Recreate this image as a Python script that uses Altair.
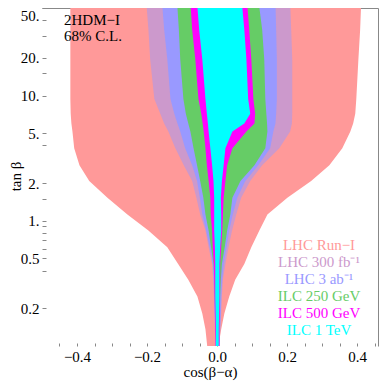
import altair as alt
import pandas as pd

# tan(beta) rows (top to bottom) at which the region boundaries were read
tan_beta = [55.8, 33.6, 19.5, 9.4, 7.16, 5.97, 5.16, 3.79, 2.78, 2.08,
            1.53, 1.12, 0.838, 0.615, 0.452, 0.338, 0.248, 0.182, 0.136, 0.1]

# cos(beta-alpha) left / right boundaries of each 68% C.L. region
run1_lo = [-0.419, -0.419, -0.419, -0.419, -0.418, -0.416, -0.413, -0.408, -0.393, -0.365,
           -0.313, -0.256, -0.196, -0.142, -0.111, -0.082, -0.056, -0.042, -0.033, -0.028]
run1_hi = [0.412, 0.409, 0.404, 0.398, 0.395, 0.389, 0.381, 0.358, 0.321, 0.269,
           0.201, 0.144, 0.121, 0.098, 0.078, 0.052, 0.035, 0.021, 0.012, 0.004]
lhc300_lo = [-0.202, -0.196, -0.191, -0.179, -0.162, -0.151, -0.139, -0.119, -0.095, -0.071,
             -0.059, -0.048, -0.033, -0.024, -0.014, -0.011, -0.009, -0.008, -0.006, -0.005]
lhc300_hi = [0.209, 0.212, 0.215, 0.215, 0.215, 0.214, 0.209, 0.178, 0.129, 0.095,
             0.069, 0.055, 0.043, 0.033, 0.024, 0.017, 0.014, 0.012, 0.009, 0.008]
lhc3000_lo = [-0.157, -0.151, -0.142, -0.133, -0.122, -0.113, -0.105, -0.091, -0.071, -0.057,
              -0.049, -0.042, -0.031, -0.021, -0.012, -0.009, -0.008, -0.006, -0.005, -0.004]
lhc3000_hi = [0.167, 0.169, 0.171, 0.171, 0.169, 0.167, 0.161, 0.152, 0.118, 0.081,
              0.058, 0.045, 0.035, 0.027, 0.019, 0.015, 0.012, 0.011, 0.009, 0.007]
ilc250_lo = [-0.114, -0.109, -0.105, -0.096, -0.089, -0.082, -0.076, -0.067, -0.057, -0.048,
             -0.039, -0.033, -0.024, -0.017, -0.010, -0.008, -0.007, -0.005, -0.004, -0.003]
ilc250_hi = [0.119, 0.129, 0.135, 0.138, 0.141, 0.143, 0.144, 0.138, 0.107, 0.067,
             0.044, 0.038, 0.029, 0.022, 0.014, 0.011, 0.009, 0.008, 0.007, 0.006]
ilc500_lo = [-0.076, -0.071, -0.062, -0.053, -0.045, -0.041, -0.038, -0.033, -0.029, -0.024,
             -0.019, -0.018, -0.014, -0.012, -0.009, -0.008, -0.007, -0.006, -0.005, -0.004]
ilc500_hi = [0.086, 0.092, 0.098, 0.104, 0.109, 0.107, 0.084, 0.044, 0.029, 0.024,
             0.019, 0.017, 0.015, 0.012, 0.009, 0.009, 0.008, 0.008, 0.007, 0.007]
ilc1000_lo = [-0.057, -0.051, -0.042, -0.033, -0.029, -0.026, -0.024, -0.019, -0.014, -0.010,
              -0.008, -0.008, -0.008, -0.006, -0.005, -0.005, -0.005, -0.004, -0.003, -0.003]
ilc1000_hi = [0.071, 0.078, 0.084, 0.089, 0.095, 0.078, 0.044, 0.024, 0.019, 0.014,
              0.011, 0.012, 0.012, 0.009, 0.007, 0.007, 0.007, 0.006, 0.005, 0.005]

names = ["LHC Run\u2212I", "LHC 300 fb\u207b\u00b9", "LHC 3 ab\u207b\u00b9",
         "ILC 250 GeV", "ILC 500 GeV", "ILC 1 TeV"]
colors = ["#ff9999", "#cc99cc", "#9999ff", "#66cc66", "#ff00ff", "#00ffff"]
bounds = [(run1_lo, run1_hi), (lhc300_lo, lhc300_hi), (lhc3000_lo, lhc3000_hi),
          (ilc250_lo, ilc250_hi), (ilc500_lo, ilc500_hi), (ilc1000_lo, ilc1000_hi)]

x_ticks = [-0.45, -0.4, -0.35, -0.3, -0.25, -0.2, -0.15, -0.1, -0.05, 0.0,
           0.05, 0.1, 0.15, 0.2, 0.25, 0.3, 0.35, 0.4, 0.45]
x_major = [-0.4, -0.2, 0.0, 0.2, 0.4]
y_ticks = [0.2, 0.4, 0.5, 0.6, 0.7, 0.8, 0.9, 1, 1.5, 2, 4, 5, 10, 15, 20, 30, 40, 50]
y_major_dec = [0.2, 0.5]
y_major_int = [1, 2, 5, 10, 20, 50]

FONT = "Liberation Serif"
GRAY = "#888888"

xscale = alt.Scale(domain=[-0.5, 0.46], nice=False, zero=False)
yscale = alt.Scale(type="log", domain=[0.1, 50], nice=False)

x_axis = alt.Axis(
    values=x_ticks,
    labelExpr="indexof(%s, datum.value) >= 0 ? format(datum.value, '.1f') : ''" % str(x_major),
    title="cos(\u03b2\u2212\u03b1)", domain=False, grid=False,
    tickSize=3, offset=-3, tickColor=GRAY, labelPadding=3,
    labelFont=FONT, labelFontSize=15, labelColor="black",
    titleFont=FONT, titleFontSize=15, titleFontWeight="normal", titleColor="black",
    titlePadding=0,
)
y_axis = alt.Axis(
    values=y_ticks,
    labelExpr=("indexof(%s, datum.value) >= 0 ? format(datum.value, '.1f') : "
               "(indexof(%s, datum.value) >= 0 ? format(datum.value, 'd') + '.' : '')")
    % (str(y_major_dec), str(y_major_int)),
    title="tan \u03b2", domain=False, grid=False,
    tickSize=4, offset=-4, tickColor=GRAY, labelPadding=3, labelFlush=True,
    labelFont=FONT, labelFontSize=15, labelColor="black",
    titleFont=FONT, titleFontSize=15, titleFontWeight="normal", titleColor="black",
    titleX=-23, titleY=168,
)
top_axis = alt.Axis(orient="top", domain=True, domainColor=GRAY, ticks=False,
                    labels=False, grid=False, title="")
right_axis = alt.Axis(orient="right", domain=True, domainColor=GRAY, ticks=False,
                      labels=False, grid=False, title="")

layers = []
for i, (lo, hi) in enumerate(bounds):
    df = pd.DataFrame({"tan": tan_beta, "lo": lo, "hi": hi})
    if i == 0:
        ax, ay = x_axis, y_axis
    elif i == len(bounds) - 1:
        ax, ay = top_axis, right_axis
    else:
        ax, ay = None, None
    layers.append(
        alt.Chart(df).mark_area(orient="horizontal", color=colors[i], clip=True).encode(
            y=alt.Y("tan:Q", scale=yscale, axis=ay),
            x=alt.X("lo:Q", scale=xscale, axis=ax),
            x2="hi:Q",
        )
    )


def label(txt, x, y, color, align):
    return alt.Chart(pd.DataFrame({"t": [txt]})).mark_text(
        align=align, baseline="middle", font=FONT, fontSize=15, color=color
    ).encode(text="t:N", x=alt.value(x), y=alt.value(y))


for i, (n, c) in enumerate(zip(names, colors)):
    layers.append(label(n, 277, 237 + 17 * i, c, "center"))

layers.append(label("2HDM\u2212I", 22, 12, "black", "left"))
layers.append(label("68% C.L.", 22, 28, "black", "left"))

chart = alt.layer(*layers).resolve_axis(x="independent", y="independent").properties(
    width=336, height=338,
    autosize=alt.AutoSizeParams(type="none"),
    padding={"left": 34, "top": 0, "right": 1, "bottom": 35},
).configure_view(strokeWidth=0)

chart.save("out.html", embed_options={"renderer": "svg", "actions": False})
